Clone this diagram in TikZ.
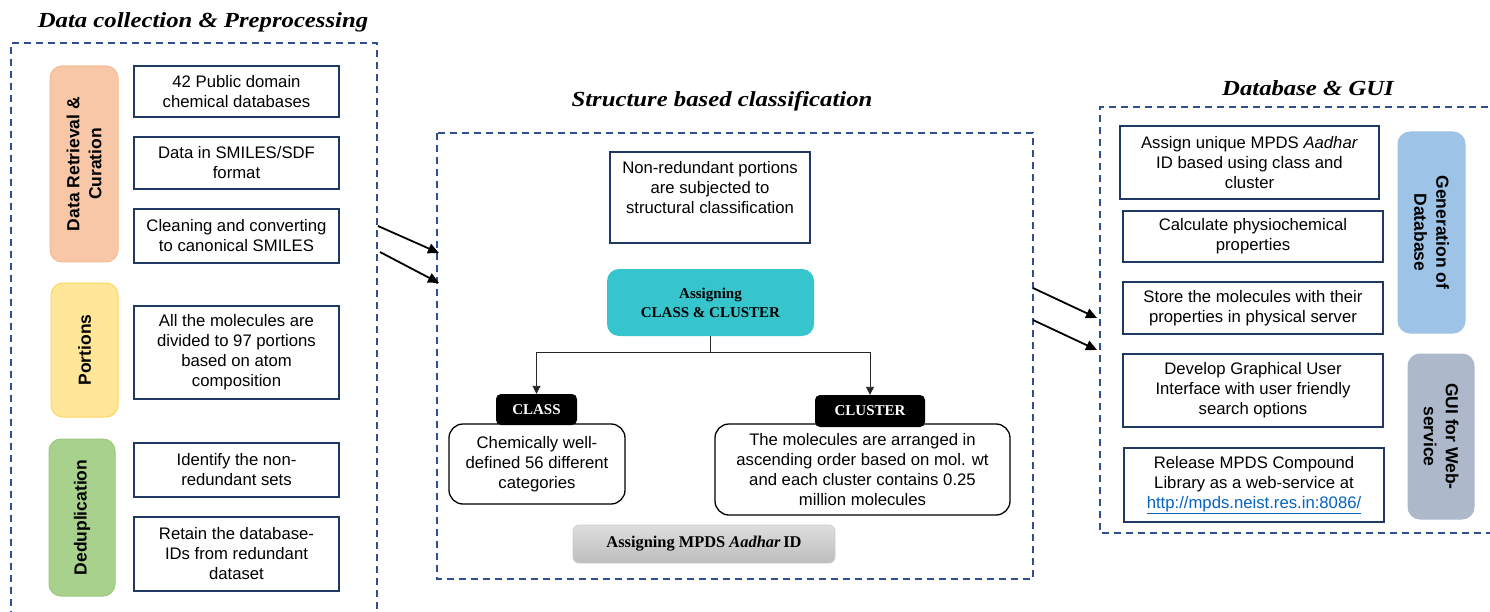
\documentclass[tikz,border=0pt]{standalone}
\usepackage{fontspec}
\newfontfamily\arial{Liberation Sans}
\newfontfamily\tnr{Liberation Serif}
\newfontfamily\ttlfont{Liberation Serif}[FakeStretch=1.15]
\usetikzlibrary{arrows.meta}
\definecolor{navy}{HTML}{203864}
\definecolor{dashc}{HTML}{2F4F8F}
\definecolor{peach}{HTML}{F7C7A8}
\definecolor{peachb}{HTML}{F4BD98}
\definecolor{ylw}{HTML}{FFE699}
\definecolor{ylwb}{HTML}{FFD75E}
\definecolor{grn}{HTML}{A9D18E}
\definecolor{grnb}{HTML}{9CC87E}
\definecolor{teal1}{HTML}{36C4CD}
\definecolor{lblue}{HTML}{9DC3E6}
\definecolor{gblue}{HTML}{ADB9CA}
\definecolor{linkc}{HTML}{0563C1}
\definecolor{gtop}{HTML}{DEDEDE}
\definecolor{gbot}{HTML}{BDBDBD}
\tikzset{
 x=1pt,y=-1pt,
 frame/.style={draw=dashc,line width=1.6pt,dash pattern=on 7pt off 5pt},
 ttl/.style={font=\ttlfont\fontsize{21.5}{25}\selectfont\bfseries\itshape,inner sep=0pt},
 lbox/.style={draw=navy,line width=1.3pt,fill=white,align=center,inner sep=0pt,
   font=\arial\fontsize{16.7}{20}\selectfont},
 side/.style={rounded corners=12pt,line width=1pt,align=center,inner sep=0pt,
   font=\arial\bfseries\fontsize{17.5}{22}\selectfont},
 rbox/.style={draw=black,line width=1.3pt,rounded corners=14pt,fill=white,align=center,
   inner sep=0pt,font=\arial\fontsize{16.7}{20}\selectfont},
 lab/.style={fill=black,rounded corners=5pt,text=white,inner sep=0pt,
   font=\tnr\bfseries\fontsize{15}{18}\selectfont},
 bigarr/.style={line width=1.8pt,-{Triangle[length=11pt,width=10pt]}},
 smallarr/.style={line width=0.9pt,draw=black!85,-{Triangle[length=8pt,width=8pt]}},
}
\begin{document}
\begin{tikzpicture}
\useasboundingbox (0,0) rectangle (1490,612);
\clip (0,0) rectangle (1490,612);
\fill[white] (0,0) rectangle (1490,612);

% ---------- Left panel ----------
\node[ttl] (t1) at (203,22) {Data collection \& Preprocessing};
\draw[frame] (11,630) -- (11,43) -- (377,43) -- (377,630);

\node[side,fill=peach,draw=peachb,rotate=90,minimum width=196pt,minimum height=68pt] (cur) at (84,164) {Data Retrieval \&\\Curation};
\node[lbox,minimum width=205pt,minimum height=51pt] (b1) at (236.5,91.5) {42 Public domain\\chemical databases};
\node[lbox,minimum width=205pt,minimum height=52pt] (b2) at (236.5,163) {Data in SMILES/SDF\\format};
\node[lbox,minimum width=205pt,minimum height=54pt] (b3) at (236.5,236) {Cleaning and converting\\to canonical SMILES};

\node[side,fill=ylw,draw=ylwb,rotate=90,minimum width=134pt,minimum height=67pt] (por) at (84.5,350) {Portions};
\node[lbox,minimum width=205pt,minimum height=93pt] (b4) at (236.5,352.5) {All the molecules are\\divided to 97 portions\\based on atom\\composition};

\node[side,fill=grn,draw=grnb,rotate=90,minimum width=157pt,minimum height=66pt] (ded) at (82,517.5) {Deduplication};
\node[lbox,minimum width=205pt,minimum height=54pt] (b5) at (236.5,470) {Identify the non-\\redundant sets};
\node[lbox,minimum width=205pt,minimum height=74pt] (b6) at (236.5,554) {Retain the database-\\IDs from redundant\\dataset};

% ---------- Middle panel ----------
\node[ttl] (t2) at (722,101) {Structure based classification};
\draw[frame] (437,133) rectangle (1033,579);

\node[lbox,minimum width=200pt,minimum height=91pt] (nr) at (710,197.5) {Non-redundant portions\\are subjected to\\structural classification\\~};
\node[fill=teal1,rounded corners=12pt,minimum width=207pt,minimum height=67pt,align=center,inner sep=0pt,
  font=\tnr\bfseries\fontsize{15}{19}\selectfont] (asg) at (710.5,302.5) {Assigning\\CLASS \& CLUSTER};

\node[rbox,minimum width=176pt,minimum height=80pt] (cdesc) at (537,464) {Chemically well-\\defined 56 different\\categories};
\node[rbox,minimum width=295pt,minimum height=91pt] (kdesc) at (862.5,469.5) {The molecules are arranged in\\ascending order based on mol. wt\\and each cluster contains 0.25\\million molecules};
\node[lab,minimum width=81pt,minimum height=31pt] (cls) at (536.5,409.5) {CLASS};
\node[lab,minimum width=110pt,minimum height=32pt] (clu) at (870,411) {CLUSTER};

\coordinate (j) at (710.5,352);
\draw[line width=0.9pt,draw=black!85] (asg.south) -- (j);
\draw[smallarr] (j) -| (cls.north);
\draw[smallarr] (j) -| (clu.north);

\node[top color=gtop,bottom color=gbot,draw=gray!40,line width=0.6pt,rounded corners=6pt,
  minimum width=262pt,minimum height=38pt,inner sep=0pt,
  font=\tnr\bfseries\fontsize{16.4}{19}\selectfont] (mpds) at (704,544) {Assigning MPDS \textit{Aadhar}\,ID};

% ---------- Right panel ----------
\node[ttl] (t3) at (1308,88) {Database \& GUI};
\draw[frame] (1500,107) -- (1100,107) -- (1100,533) -- (1500,533);

\node[lbox,minimum width=259pt,minimum height=73pt] (ra) at (1249.5,162.5) {Assign unique MPDS \textit{Aadhar}\\ID based using class and\\cluster};
\node[lbox,minimum width=260pt,minimum height=51pt] (rb) at (1253,236.5) {Calculate physiochemical\\properties};
\node[lbox,minimum width=260pt,minimum height=52pt] (rc) at (1253,308) {Store the molecules with their\\properties in physical server};
\node[side,fill=lblue,draw=lblue,rotate=-90,minimum width=201pt,minimum height=67pt] (gen) at (1431.5,232.5) {Generation of\\Database};

\node[lbox,minimum width=260pt,minimum height=73pt] (rd) at (1253,390.5) {Develop Graphical User\\Interface with user friendly\\search options};
\node[lbox,minimum width=260pt,minimum height=74pt] (re) at (1254,485) {Release MPDS Compound\\Library as a web-service at\\\textcolor{linkc}{\underline{http://mpds.neist.res.in:8086/}}};
\node[side,fill=gblue,draw=gblue,rotate=-90,minimum width=165pt,minimum height=66pt] (gui) at (1441,436.5) {GUI for Web-\\service};

% ---------- Arrows between panels ----------
\coordinate (a1s) at (378,226); \coordinate (a1e) at (439,253);
\coordinate (a2s) at (380,252); \coordinate (a2e) at (439,283);
\coordinate (a3s) at (1033,288); \coordinate (a3e) at (1097,318);
\coordinate (a4s) at (1033,320); \coordinate (a4e) at (1097,350);
\draw[bigarr] (a1s) -- (a1e);
\draw[bigarr] (a2s) -- (a2e);
\draw[bigarr] (a3s) -- (a3e);
\draw[bigarr] (a4s) -- (a4e);
\end{tikzpicture}
\end{document}
